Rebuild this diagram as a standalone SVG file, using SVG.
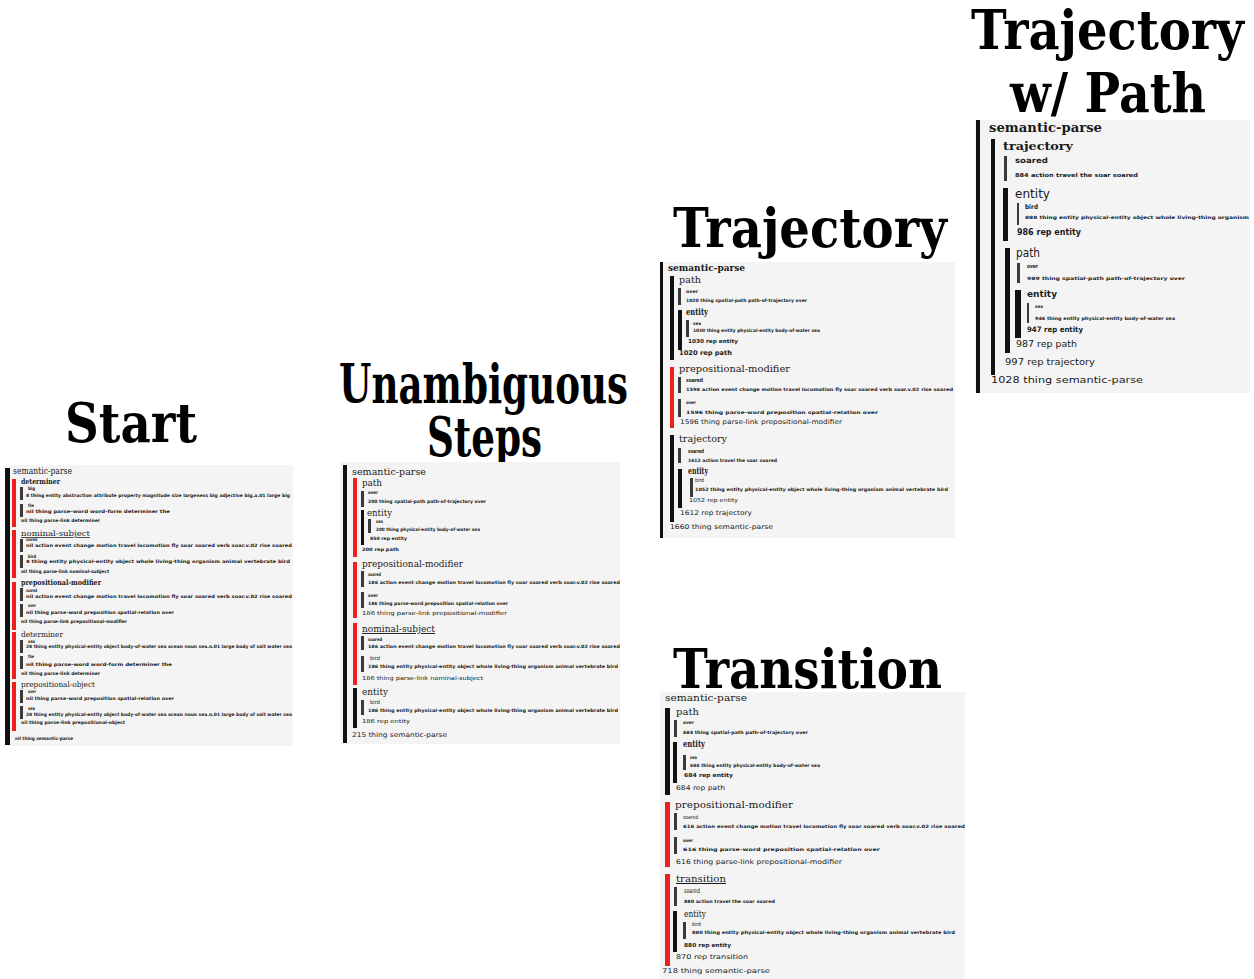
<svg xmlns="http://www.w3.org/2000/svg" width="1254" height="979" viewBox="0 0 1254 979">
<style>
.t{font-family:"DejaVu Serif","Liberation Serif",serif;font-weight:bold;font-size:54px;fill:#000}
.bg{fill:#f4f4f4}
.bk{fill:#111}
.rd{fill:#ee2020}
.dk{fill:#3a3a3a}
.h{font-family:"DejaVu Serif","Liberation Serif",serif;fill:#1a1a1a}
.s{font-family:"DejaVu Sans","Liberation Sans",sans-serif;fill:#1a1a1a}
.w{font-weight:bold}
.u{text-decoration:underline}
.f4{font-size:4.5px}
.f5{font-size:5.5px}
.f6{font-size:6.5px}
.f7{font-size:7.5px}
.f8{font-size:8.5px}
.f9{font-size:9.5px}
.f10{font-size:10px}
.f11{font-size:11.5px}
.f13{font-size:13px}
</style>
<rect width="1254" height="979" fill="#fff"/>
<g id="titles">
<text class="t" x="65" y="442" textLength="132" lengthAdjust="spacingAndGlyphs">Start</text>
<text class="t" x="339" y="403" textLength="289" lengthAdjust="spacingAndGlyphs">Unambiguous</text>
<text class="t" x="427" y="456" textLength="115" lengthAdjust="spacingAndGlyphs">Steps</text>
<text class="t" x="673" y="247" textLength="274" lengthAdjust="spacingAndGlyphs">Trajectory</text>
<text class="t" x="673" y="688" textLength="269" lengthAdjust="spacingAndGlyphs">Transition</text>
<text class="t" x="971" y="49" textLength="273" lengthAdjust="spacingAndGlyphs">Trajectory</text>
<text class="t" x="1010" y="112" textLength="196" lengthAdjust="spacingAndGlyphs">w/ Path</text>
</g>
<g id="connectors"/>

<g id="panel-start">
<rect class="bg" x="5" y="465" width="288" height="281"/>
<rect class="bk" x="5" y="468" width="5" height="277"/>
<text class="h f8" x="13" y="474" textLength="59" lengthAdjust="spacingAndGlyphs">semantic-parse</text>
<rect class="rd" x="12" y="479" width="4" height="48"/>
<text class="h w f7" x="21" y="484" textLength="39" lengthAdjust="spacingAndGlyphs">determiner</text>
<rect class="dk" x="20" y="487" width="3" height="13"/>
<text class="s w f4" x="28" y="490" textLength="7" lengthAdjust="spacingAndGlyphs">big</text>
<text class="s w f4" x="26" y="497" textLength="264" lengthAdjust="spacingAndGlyphs">8 thing entity abstraction attribute property magnitude size largeness big adjective big.a.01 large big</text>
<rect class="dk" x="20" y="504" width="3" height="13"/>
<text class="s w f4" x="28" y="507" textLength="6" lengthAdjust="spacingAndGlyphs">the</text>
<text class="s w f4" x="26" y="513" textLength="144" lengthAdjust="spacingAndGlyphs">nil thing parse-word word-form determiner the</text>
<text class="s w f4" x="21" y="522" textLength="79" lengthAdjust="spacingAndGlyphs">nil thing parse-link determiner</text>
<rect class="rd" x="12" y="530" width="4" height="48"/>
<text class="h f7 u" x="21" y="536" textLength="69" lengthAdjust="spacingAndGlyphs">nominal-subject</text>
<rect class="dk" x="20" y="539" width="3" height="13"/>
<text class="s w f4" x="26" y="541" textLength="11" lengthAdjust="spacingAndGlyphs">soared</text>
<text class="s w f4" x="26" y="547" textLength="266" lengthAdjust="spacingAndGlyphs">nil action event change motion travel locomotion fly soar soared verb soar.v.02 rise soared</text>
<rect class="dk" x="20" y="555" width="3" height="13"/>
<text class="s w f4" x="28" y="558" textLength="8" lengthAdjust="spacingAndGlyphs">bird</text>
<text class="s w f4" x="26" y="563" textLength="264" lengthAdjust="spacingAndGlyphs">8 thing entity physical-entity object whole living-thing organism animal vertebrate bird</text>
<text class="s w f4" x="21" y="573" textLength="88" lengthAdjust="spacingAndGlyphs">nil thing parse-link nominal-subject</text>
<rect class="rd" x="12" y="582" width="4" height="48"/>
<text class="h w f7" x="21" y="585" textLength="80" lengthAdjust="spacingAndGlyphs">prepositional-modifier</text>
<rect class="dk" x="20" y="588" width="3" height="13"/>
<text class="s w f4" x="26" y="592" textLength="11" lengthAdjust="spacingAndGlyphs">soared</text>
<text class="s w f4" x="26" y="598" textLength="266" lengthAdjust="spacingAndGlyphs">nil action event change motion travel locomotion fly soar soared verb soar.v.02 rise soared</text>
<rect class="dk" x="20" y="604" width="3" height="13"/>
<text class="s w f4" x="28" y="607" textLength="8" lengthAdjust="spacingAndGlyphs">over</text>
<text class="s w f4" x="26" y="614" textLength="148" lengthAdjust="spacingAndGlyphs">nil thing parse-word preposition spatial-relation over</text>
<text class="s w f4" x="21" y="623" textLength="106" lengthAdjust="spacingAndGlyphs">nil thing parse-link prepositional-modifier</text>
<rect class="rd" x="12" y="632" width="4" height="47"/>
<text class="h f7" x="21" y="637" textLength="42" lengthAdjust="spacingAndGlyphs">determiner</text>
<rect class="dk" x="20" y="640" width="3" height="13"/>
<text class="s w f4" x="28" y="643" textLength="7" lengthAdjust="spacingAndGlyphs">sea</text>
<text class="s w f4" x="26" y="648" textLength="266" lengthAdjust="spacingAndGlyphs">28 thing entity physical-entity object body-of-water sea ocean noun sea.n.01 large body of salt water sea</text>
<rect class="dk" x="20" y="656" width="3" height="13"/>
<text class="s w f4" x="28" y="658" textLength="6" lengthAdjust="spacingAndGlyphs">the</text>
<text class="s w f4" x="26" y="666" textLength="146" lengthAdjust="spacingAndGlyphs">nil thing parse-word word-form determiner the</text>
<text class="s w f4" x="21" y="675" textLength="79" lengthAdjust="spacingAndGlyphs">nil thing parse-link determiner</text>
<rect class="rd" x="12" y="682" width="4" height="49"/>
<text class="h f7" x="21" y="687" textLength="74" lengthAdjust="spacingAndGlyphs">prepositional-object</text>
<rect class="dk" x="20" y="690" width="3" height="13"/>
<text class="s w f4" x="28" y="693" textLength="8" lengthAdjust="spacingAndGlyphs">over</text>
<text class="s w f4" x="26" y="700" textLength="148" lengthAdjust="spacingAndGlyphs">nil thing parse-word preposition spatial-relation over</text>
<rect class="dk" x="20" y="706" width="3" height="13"/>
<text class="s w f4" x="28" y="710" textLength="7" lengthAdjust="spacingAndGlyphs">sea</text>
<text class="s w f4" x="26" y="716" textLength="266" lengthAdjust="spacingAndGlyphs">28 thing entity physical-entity object body-of-water sea ocean noun sea.n.01 large body of salt water sea</text>
<text class="s w f4" x="21" y="724" textLength="104" lengthAdjust="spacingAndGlyphs">nil thing parse-link prepositional-object</text>
<text class="s w f4" x="15" y="740" textLength="58" lengthAdjust="spacingAndGlyphs">nil thing semantic-parse</text>
</g>

<g id="panel-unambiguous">
<rect class="bg" x="340" y="462" width="280" height="282"/>
<rect class="bk" x="343" y="465" width="4" height="278"/>
<text class="h f9" x="352" y="475" textLength="74" lengthAdjust="spacingAndGlyphs">semantic-parse</text>
<rect class="rd" x="353" y="478" width="4" height="79"/>
<text class="h f9" x="362" y="486" textLength="20" lengthAdjust="spacingAndGlyphs">path</text>
<rect class="dk" x="361" y="491" width="3" height="16"/>
<text class="s w f4" x="368" y="494" textLength="10" lengthAdjust="spacingAndGlyphs">over</text>
<text class="s w f4" x="368" y="503" textLength="118" lengthAdjust="spacingAndGlyphs">200 thing spatial-path path-of-trajectory over</text>
<rect class="bk" x="361" y="510" width="3" height="35"/>
<text class="h f8" x="367" y="516" textLength="25" lengthAdjust="spacingAndGlyphs">entity</text>
<rect class="dk" x="368" y="519" width="3" height="14"/>
<text class="s w f4" x="376" y="523" textLength="7" lengthAdjust="spacingAndGlyphs">sea</text>
<text class="s w f4" x="376" y="531" textLength="104" lengthAdjust="spacingAndGlyphs">200 thing physical-entity body-of-water sea</text>
<text class="s w f4" x="370" y="540" textLength="37" lengthAdjust="spacingAndGlyphs">850 rep entity</text>
<text class="s w f4" x="362" y="551" textLength="37" lengthAdjust="spacingAndGlyphs">200 rep path</text>
<rect class="rd" x="353" y="562" width="4" height="56"/>
<text class="h f9" x="362" y="567" textLength="101" lengthAdjust="spacingAndGlyphs">prepositional-modifier</text>
<rect class="dk" x="361" y="571" width="3" height="16"/>
<text class="s w f4" x="368" y="576" textLength="13" lengthAdjust="spacingAndGlyphs">soared</text>
<text class="s w f4" x="368" y="584" textLength="252" lengthAdjust="spacingAndGlyphs">186 action event change motion travel locomotion fly soar soared verb soar.v.02 rise soared</text>
<rect class="dk" x="361" y="592" width="3" height="16"/>
<text class="s w f4" x="368" y="597" textLength="10" lengthAdjust="spacingAndGlyphs">over</text>
<text class="s w f4" x="368" y="605" textLength="140" lengthAdjust="spacingAndGlyphs">186 thing parse-word preposition spatial-relation over</text>
<text class="s f5" x="362" y="615" textLength="145" lengthAdjust="spacingAndGlyphs">186 thing parse-link prepositional-modifier</text>
<rect class="rd" x="353" y="623" width="4" height="62"/>
<text class="h f9 u" x="362" y="632" textLength="73" lengthAdjust="spacingAndGlyphs">nominal-subject</text>
<rect class="dk" x="361" y="636" width="3" height="14"/>
<text class="s w f4" x="368" y="641" textLength="14" lengthAdjust="spacingAndGlyphs">soared</text>
<text class="s w f4" x="368" y="648" textLength="252" lengthAdjust="spacingAndGlyphs">186 action event change motion travel locomotion fly soar soared verb soar.v.02 rise soared</text>
<rect class="dk" x="361" y="656" width="3" height="16"/>
<text class="s f5" x="370" y="660" textLength="10" lengthAdjust="spacingAndGlyphs">bird</text>
<text class="s w f4" x="368" y="668" textLength="250" lengthAdjust="spacingAndGlyphs">186 thing entity physical-entity object whole living-thing organism animal vertebrate bird</text>
<text class="s f5" x="362" y="680" textLength="121" lengthAdjust="spacingAndGlyphs">186 thing parse-link nominal-subject</text>
<rect class="bk" x="353" y="688" width="4" height="40"/>
<text class="h f9" x="362" y="695" textLength="26" lengthAdjust="spacingAndGlyphs">entity</text>
<rect class="dk" x="361" y="700" width="3" height="15"/>
<text class="s f5" x="370" y="704" textLength="10" lengthAdjust="spacingAndGlyphs">bird</text>
<text class="s w f4" x="368" y="712" textLength="250" lengthAdjust="spacingAndGlyphs">186 thing entity physical-entity object whole living-thing organism animal vertebrate bird</text>
<text class="s f5" x="362" y="723" textLength="48" lengthAdjust="spacingAndGlyphs">186 rep entity</text>
<text class="s f6" x="352" y="737" textLength="95" lengthAdjust="spacingAndGlyphs">215 thing semantic-parse</text>
</g>

<g id="panel-trajectory">
<rect class="bg" x="660" y="262" width="295" height="276"/>
<rect class="bk" x="660" y="262" width="3" height="276"/>
<text class="h w f10" x="668" y="271" textLength="77" lengthAdjust="spacingAndGlyphs">semantic-parse</text>
<rect class="bk" x="670" y="276" width="4" height="84"/>
<text class="h f10" x="679" y="283" textLength="22" lengthAdjust="spacingAndGlyphs">path</text>
<rect class="dk" x="678" y="288" width="3" height="17"/>
<text class="s w f4" x="686" y="293" textLength="12" lengthAdjust="spacingAndGlyphs">over</text>
<text class="s w f4" x="686" y="302" textLength="121" lengthAdjust="spacingAndGlyphs">1020 thing spatial-path path-of-trajectory over</text>
<rect class="bk" x="678" y="310" width="4" height="40"/>
<text class="h w f9" x="686" y="315" textLength="22" lengthAdjust="spacingAndGlyphs">entity</text>
<rect class="dk" x="686" y="320" width="3" height="17"/>
<text class="s w f4" x="693" y="325" textLength="8" lengthAdjust="spacingAndGlyphs">sea</text>
<text class="s w f4" x="693" y="332" textLength="127" lengthAdjust="spacingAndGlyphs">1030 thing entity physical-entity body-of-water sea</text>
<text class="s w f5" x="688" y="343" textLength="50" lengthAdjust="spacingAndGlyphs">1030 rep entity</text>
<text class="s w f6" x="679" y="355" textLength="53" lengthAdjust="spacingAndGlyphs">1020 rep path</text>
<rect class="rd" x="670" y="367" width="4" height="61"/>
<text class="h f10" x="679" y="372" textLength="111" lengthAdjust="spacingAndGlyphs">prepositional-modifier</text>
<rect class="dk" x="678" y="377" width="3" height="16"/>
<text class="s w f5" x="686" y="382" textLength="17" lengthAdjust="spacingAndGlyphs">soared</text>
<text class="s w f4" x="686" y="391" textLength="267" lengthAdjust="spacingAndGlyphs">1596 action event change motion travel locomotion fly soar soared verb soar.v.02 rise soared</text>
<rect class="dk" x="678" y="399" width="3" height="18"/>
<text class="s w f4" x="686" y="404" textLength="10" lengthAdjust="spacingAndGlyphs">over</text>
<text class="s w f4" x="686" y="414" textLength="192" lengthAdjust="spacingAndGlyphs">1596 thing parse-word preposition spatial-relation over</text>
<text class="s f6" x="680" y="424" textLength="162" lengthAdjust="spacingAndGlyphs">1596 thing parse-link prepositional-modifier</text>
<rect class="bk" x="670" y="435" width="4" height="87"/>
<text class="h f10" x="679" y="442" textLength="48" lengthAdjust="spacingAndGlyphs">trajectory</text>
<rect class="dk" x="678" y="448" width="3" height="15"/>
<text class="s w f5" x="688" y="453" textLength="16" lengthAdjust="spacingAndGlyphs">soared</text>
<text class="s w f4" x="688" y="462" textLength="89" lengthAdjust="spacingAndGlyphs">1612 action travel the soar soared</text>
<rect class="bk" x="678" y="469" width="4" height="39"/>
<text class="h w f9" x="688" y="474" textLength="20" lengthAdjust="spacingAndGlyphs">entity</text>
<rect class="dk" x="690" y="478" width="3" height="19"/>
<text class="s f5" x="695" y="482" textLength="9" lengthAdjust="spacingAndGlyphs">bird</text>
<text class="s w f4" x="695" y="491" textLength="253" lengthAdjust="spacingAndGlyphs">1052 thing entity physical-entity object whole living-thing organism animal vertebrate bird</text>
<text class="s f5" x="689" y="502" textLength="49" lengthAdjust="spacingAndGlyphs">1052 rep entity</text>
<text class="s f6" x="680" y="515" textLength="72" lengthAdjust="spacingAndGlyphs">1612 rep trajectory</text>
<text class="s f6" x="670" y="529" textLength="103" lengthAdjust="spacingAndGlyphs">1660 thing semantic-parse</text>
</g>

<g id="panel-transition">
<rect class="bg" x="660" y="692" width="305" height="287"/>
<text class="h f10" x="665" y="701" textLength="82" lengthAdjust="spacingAndGlyphs">semantic-parse</text>
<rect class="bk" x="665" y="708" width="5" height="87"/>
<text class="h f10" x="676" y="715" textLength="23" lengthAdjust="spacingAndGlyphs">path</text>
<rect class="dk" x="674" y="720" width="3" height="17"/>
<text class="s w f4" x="683" y="724" textLength="11" lengthAdjust="spacingAndGlyphs">over</text>
<text class="s w f4" x="683" y="734" textLength="125" lengthAdjust="spacingAndGlyphs">684 thing spatial-path path-of-trajectory over</text>
<rect class="bk" x="673" y="742" width="4" height="41"/>
<text class="h w f9" x="683" y="747" textLength="22" lengthAdjust="spacingAndGlyphs">entity</text>
<rect class="dk" x="683" y="755" width="3" height="15"/>
<text class="s w f4" x="690" y="759" textLength="7" lengthAdjust="spacingAndGlyphs">sea</text>
<text class="s w f4" x="690" y="767" textLength="130" lengthAdjust="spacingAndGlyphs">684 thing entity physical-entity body-of-water sea</text>
<text class="s w f5" x="684" y="777" textLength="49" lengthAdjust="spacingAndGlyphs">684 rep entity</text>
<text class="s f6" x="676" y="790" textLength="49" lengthAdjust="spacingAndGlyphs">684 rep path</text>
<rect class="rd" x="665" y="802" width="5" height="65"/>
<text class="h f10" x="675" y="808" textLength="118" lengthAdjust="spacingAndGlyphs">prepositional-modifier</text>
<rect class="dk" x="674" y="813" width="3" height="17"/>
<text class="s f5" x="683" y="819" textLength="15" lengthAdjust="spacingAndGlyphs">soared</text>
<text class="s w f4" x="683" y="828" textLength="282" lengthAdjust="spacingAndGlyphs">616 action event change motion travel locomotion fly soar soared verb soar.v.02 rise soared</text>
<rect class="dk" x="674" y="837" width="3" height="17"/>
<text class="s w f4" x="683" y="842" textLength="10" lengthAdjust="spacingAndGlyphs">over</text>
<text class="s w f4" x="683" y="851" textLength="197" lengthAdjust="spacingAndGlyphs">616 thing parse-word preposition spatial-relation over</text>
<text class="s f6" x="676" y="864" textLength="166" lengthAdjust="spacingAndGlyphs">616 thing parse-link prepositional-modifier</text>
<rect class="rd" x="665" y="874" width="5" height="92"/>
<text class="h f10 u" x="676" y="882" textLength="50" lengthAdjust="spacingAndGlyphs">transition</text>
<rect class="dk" x="674" y="887" width="3" height="19"/>
<text class="s f6" x="684" y="893" textLength="16" lengthAdjust="spacingAndGlyphs">soared</text>
<text class="s w f4" x="684" y="903" textLength="91" lengthAdjust="spacingAndGlyphs">880 action travel the soar soared</text>
<rect class="bk" x="673" y="911" width="4" height="41"/>
<text class="h f9" x="684" y="917" textLength="22" lengthAdjust="spacingAndGlyphs">entity</text>
<rect class="dk" x="683" y="922" width="3" height="17"/>
<text class="s f5" x="692" y="926" textLength="9" lengthAdjust="spacingAndGlyphs">bird</text>
<text class="s w f4" x="692" y="934" textLength="263" lengthAdjust="spacingAndGlyphs">880 thing entity physical-entity object whole living-thing organism animal vertebrate bird</text>
<text class="s w f5" x="684" y="947" textLength="47" lengthAdjust="spacingAndGlyphs">880 rep entity</text>
<text class="s f6" x="676" y="959" textLength="72" lengthAdjust="spacingAndGlyphs">870 rep transition</text>
<text class="s f6" x="662" y="973" textLength="108" lengthAdjust="spacingAndGlyphs">718 thing semantic-parse</text>
</g>

<g id="panel-trajectory-path">
<rect class="bg" x="975" y="120" width="275" height="273"/>
<rect class="bk" x="976" y="120" width="4" height="273"/>
<text class="h w f13" x="989" y="132" textLength="113" lengthAdjust="spacingAndGlyphs">semantic-parse</text>
<rect class="bk" x="991" y="139" width="4" height="236"/>
<text class="h w f11" x="1003" y="150" textLength="70" lengthAdjust="spacingAndGlyphs">trajectory</text>
<rect class="dk" x="1004" y="156" width="3" height="25"/>
<text class="s w f7" x="1015" y="163" textLength="33" lengthAdjust="spacingAndGlyphs">soared</text>
<text class="s w f5" x="1015" y="177" textLength="123" lengthAdjust="spacingAndGlyphs">884 action travel the soar soared</text>
<rect class="bk" x="1003" y="188" width="5" height="53"/>
<text class="s f11" x="1015" y="198" textLength="35" lengthAdjust="spacingAndGlyphs">entity</text>
<rect class="dk" x="1017" y="203" width="2" height="22"/>
<text class="s w f6" x="1025" y="209" textLength="13" lengthAdjust="spacingAndGlyphs">bird</text>
<text class="s w f4" x="1025" y="219" textLength="224" lengthAdjust="spacingAndGlyphs">888 thing entity physical-entity object whole living-thing organism</text>
<text class="s w f8" x="1017" y="235" textLength="64" lengthAdjust="spacingAndGlyphs">986 rep entity</text>
<rect class="bk" x="1005" y="248" width="5" height="105"/>
<text class="s f11" x="1016" y="257" textLength="24" lengthAdjust="spacingAndGlyphs">path</text>
<rect class="dk" x="1017" y="263" width="3" height="20"/>
<text class="s w f5" x="1027" y="268" textLength="11" lengthAdjust="spacingAndGlyphs">over</text>
<text class="s w f4" x="1027" y="280" textLength="158" lengthAdjust="spacingAndGlyphs">989 thing spatial-path path-of-trajectory over</text>
<rect class="bk" x="1015" y="290" width="6" height="48"/>
<text class="s w f9" x="1027" y="297" textLength="30" lengthAdjust="spacingAndGlyphs">entity</text>
<rect class="dk" x="1027" y="303" width="2" height="20"/>
<text class="s w f4" x="1035" y="308" textLength="8" lengthAdjust="spacingAndGlyphs">sea</text>
<text class="s w f4" x="1035" y="320" textLength="140" lengthAdjust="spacingAndGlyphs">946 thing entity physical-entity body-of-water sea</text>
<text class="s w f7" x="1027" y="332" textLength="56" lengthAdjust="spacingAndGlyphs">947 rep entity</text>
<text class="s f9" x="1016" y="347" textLength="61" lengthAdjust="spacingAndGlyphs">987 rep path</text>
<text class="s f9" x="1005" y="365" textLength="90" lengthAdjust="spacingAndGlyphs">997 rep trajectory</text>
<text class="s f9" x="991" y="383" textLength="152" lengthAdjust="spacingAndGlyphs">1028 thing semantic-parse</text>
</g>
</svg>
